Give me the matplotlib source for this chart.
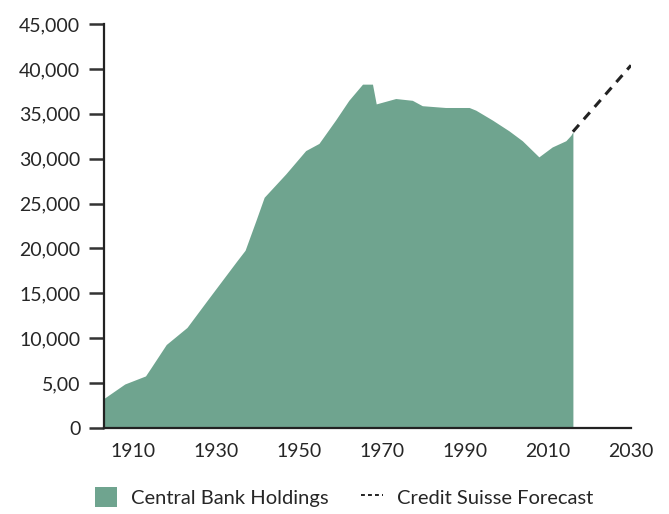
import matplotlib.pyplot as plt
from matplotlib.patches import Patch
from matplotlib.lines import Line2D

# central bank gold holdings (tonnes)
years = [1903, 1908, 1913, 1914.3, 1918, 1923, 1928, 1935, 1937, 1939.6, 1941.6,
         1946.8, 1951.6, 1954.8, 1958.8, 1962, 1965.3, 1967.7, 1968.6, 1973.3,
         1977.3, 1979.7, 1985.3, 1991, 1992.6, 1996.6, 2000.6, 2003.8, 2007.8,
         2011, 2014.3, 2015.5, 2016]
holdings = [3300, 4900, 5800, 6700, 9300, 11200, 14300, 18600, 19800, 23100, 25700,
            28300, 30900, 31700, 34300, 36500, 38300, 38300, 36100, 36700,
            36500, 35900, 35700, 35700, 35400, 34300, 33100, 32000, 30200,
            31300, 32000, 32600, 33000]

forecast_years = [2016, 2030]
forecast_vals = [33000, 40400]

y_ticks = [0, 5000, 10000, 15000, 20000, 25000, 30000, 35000, 40000, 45000]
y_labels = ['0', '5,00', '10,000', '15,000', '20,000', '25,000', '30,000',
            '35,000', '40,000', '45,000']
x_ticks = [1910, 1930, 1950, 1970, 1990, 2010, 2030]

green = '#6fa48f'
txt = '#262626'

plt.rcParams['font.family'] = ['Lato', 'DejaVu Sans']

fig = plt.figure(figsize=(6.69, 5.14), dpi=100)
ax = fig.add_axes([104/669, 86/514, 527/669, 404/514])

ax.fill_between(years, 0, holdings, color=green, linewidth=0)
ax.plot(forecast_years, forecast_vals, color='#222222', linewidth=2.2,
        dashes=(3, 2.4))

ax.set_xlim(1903, 2030)
ax.set_ylim(0, 45000)
ax.set_yticks(y_ticks)
ax.set_yticklabels(y_labels)
ax.set_xticks(x_ticks)

for s in ['top', 'right']:
    ax.spines[s].set_visible(False)
for s in ['left', 'bottom']:
    ax.spines[s].set_linewidth(1.6)
    ax.spines[s].set_color('#222222')

ax.tick_params(axis='y', length=11, width=1.8, color='#333333', labelsize=14,
               labelcolor=txt, pad=6)
ax.tick_params(axis='x', length=0, labelsize=14, labelcolor=txt, pad=11)

handles = [Patch(facecolor=green, edgecolor='none'),
           Line2D([0], [0], color='#222222', linewidth=1.4, dashes=(2, 1.6))]
fig.legend(handles, ['Central Bank Holdings', 'Credit Suisse Forecast'],
           loc='center left', bbox_to_anchor=(0.115, 0.033), ncol=2,
           frameon=False, fontsize=14.5, labelcolor=txt, handlelength=1.1,
           handleheight=1.2, handletextpad=0.7, columnspacing=1.6)

fig.savefig('out.png', dpi=100)
